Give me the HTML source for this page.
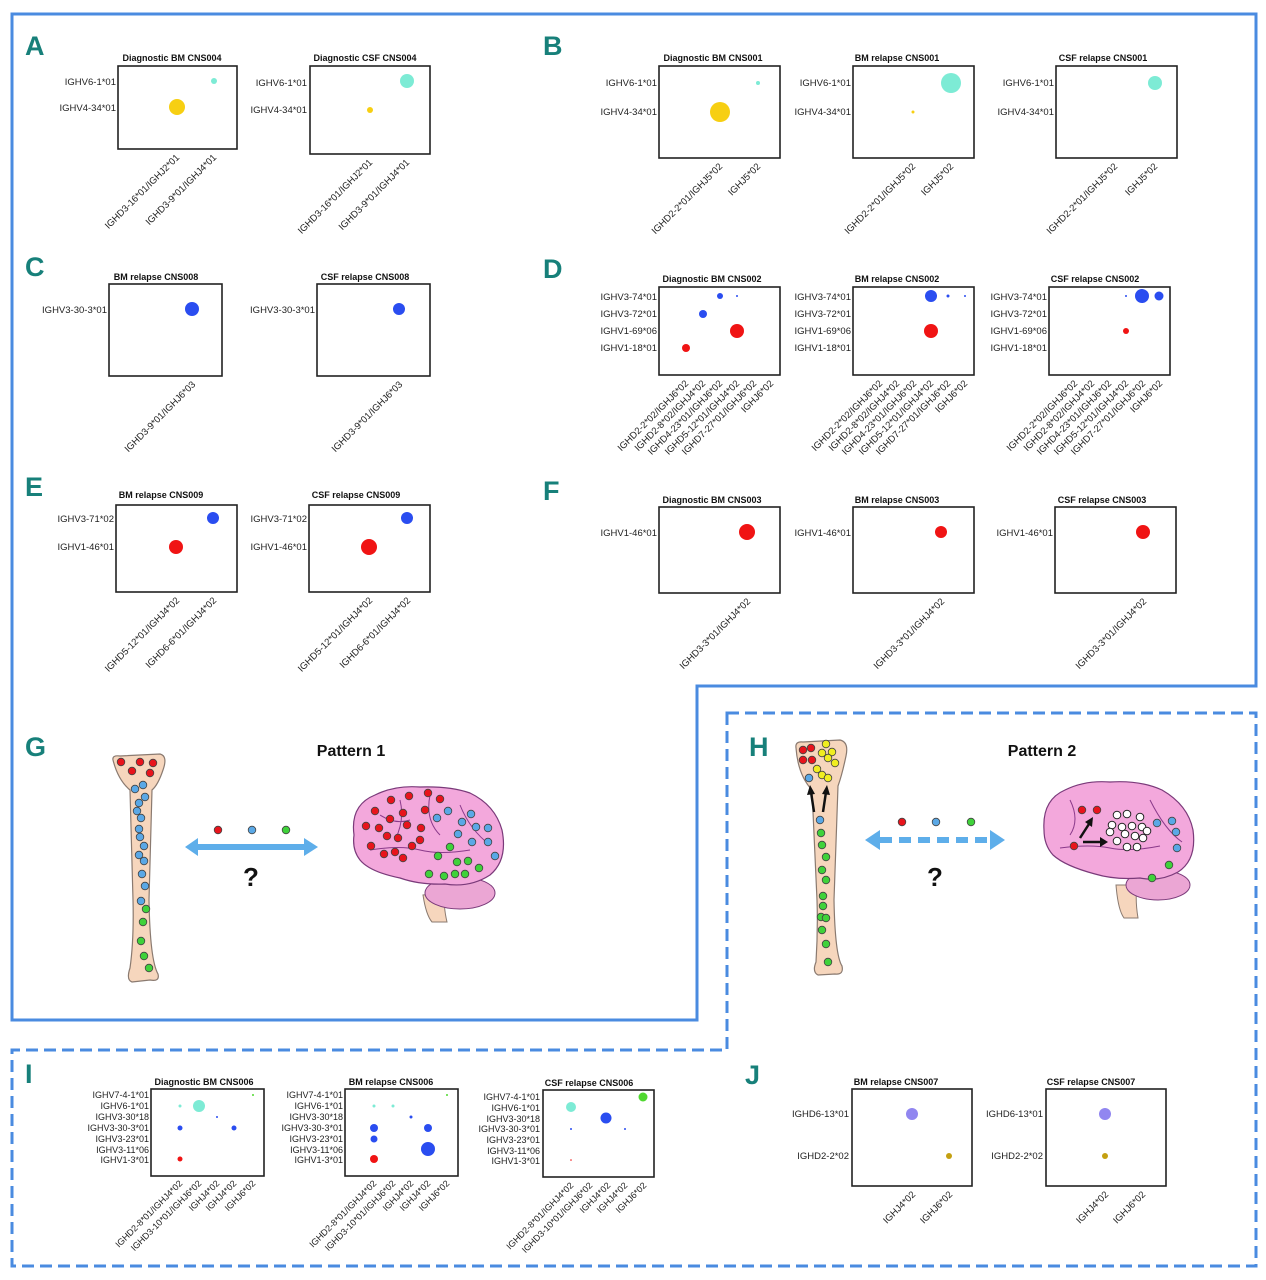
<!DOCTYPE html>
<html><head><meta charset="utf-8"><style>
html,body{margin:0;padding:0;background:#fff;}
svg{display:block;font-family:"Liberation Sans",Arial,sans-serif;}
.t{font-size:9px;font-weight:bold;text-anchor:middle;fill:#111}
.y{font-size:9.5px;text-anchor:end;fill:#222}
.x{font-size:9.5px;text-anchor:end;fill:#222}
.b{fill:none;stroke:#222;stroke-width:1.6}
.L{font-family:"Liberation Sans Narrow","Liberation Sans",sans-serif;font-size:27px;font-weight:bold;fill:#17807a}
.P{font-size:16px;font-weight:bold;text-anchor:middle;fill:#111}
.Q{font-size:26px;font-weight:bold;text-anchor:middle;fill:#111}
.c{stroke:#444;stroke-width:.8}
</style></head><body>
<svg width="1266" height="1280" viewBox="0 0 1266 1280" xmlns="http://www.w3.org/2000/svg">
<!-- borders -->
<path d="M12,14 H1256 V686 H697 V1020 H12 Z" fill="none" stroke="#4a8be0" stroke-width="3"/>
<path d="M727,713 H1256 V1266 H12 V1050 H727 Z" fill="none" stroke="#4a8be0" stroke-width="3" stroke-dasharray="12,6"/>

<!-- letters -->
<text class="L" x="25" y="55">A</text>
<text class="L" x="543" y="55">B</text>
<text class="L" x="25" y="276">C</text>
<text class="L" x="543" y="278">D</text>
<text class="L" x="25" y="496">E</text>
<text class="L" x="543" y="500">F</text>
<text class="L" x="25" y="756">G</text>
<text class="L" x="749" y="756">H</text>
<text class="L" x="25" y="1083">I</text>
<text class="L" x="745" y="1084">J</text>

<!-- A1 -->
<text class="t" x="172" y="61">Diagnostic BM CNS004</text>
<rect class="b" x="118" y="66" width="119" height="83"/>
<text class="y" x="116" y="85">IGHV6-1*01</text>
<text class="y" x="116" y="111">IGHV4-34*01</text>
<circle cx="214" cy="81" r="3" fill="#7debd5"/><circle cx="177" cy="107" r="8" fill="#f7cf12"/>
<text class="x" transform="translate(180,158) rotate(-45)">IGHD3-16*01/IGHJ2*01</text>
<text class="x" transform="translate(217,158) rotate(-45)">IGHD3-9*01/IGHJ4*01</text>
<!-- A2 -->
<text class="t" x="365" y="61">Diagnostic CSF CNS004</text>
<rect class="b" x="310" y="66" width="120" height="88"/>
<text class="y" x="307" y="86">IGHV6-1*01</text>
<text class="y" x="307" y="113">IGHV4-34*01</text>
<circle cx="407" cy="81" r="7" fill="#7debd5"/><circle cx="370" cy="110" r="3" fill="#f7cf12"/>
<text class="x" transform="translate(373,163) rotate(-45)">IGHD3-16*01/IGHJ2*01</text>
<text class="x" transform="translate(410,163) rotate(-45)">IGHD3-9*01/IGHJ4*01</text>

<!-- B1 -->
<text class="t" x="713" y="61">Diagnostic BM CNS001</text>
<rect class="b" x="659" y="66" width="121" height="92"/>
<text class="y" x="657" y="86">IGHV6-1*01</text>
<text class="y" x="657" y="115">IGHV4-34*01</text>
<circle cx="758" cy="83" r="2" fill="#7debd5"/><circle cx="720" cy="112" r="10" fill="#f7cf12"/>
<text class="x" transform="translate(723,167) rotate(-45)">IGHD2-2*01/IGHJ5*02</text>
<text class="x" transform="translate(761,167) rotate(-45)">IGHJ5*02</text>
<!-- B2 -->
<text class="t" x="897" y="61">BM relapse CNS001</text>
<rect class="b" x="853" y="66" width="121" height="92"/>
<text class="y" x="851" y="86">IGHV6-1*01</text>
<text class="y" x="851" y="115">IGHV4-34*01</text>
<circle cx="951" cy="83" r="10" fill="#7debd5"/><circle cx="913" cy="112" r="1.5" fill="#f7cf12"/>
<text class="x" transform="translate(916,167) rotate(-45)">IGHD2-2*01/IGHJ5*02</text>
<text class="x" transform="translate(954,167) rotate(-45)">IGHJ5*02</text>
<!-- B3 -->
<text class="t" x="1103" y="61">CSF relapse CNS001</text>
<rect class="b" x="1056" y="66" width="121" height="92"/>
<text class="y" x="1054" y="86">IGHV6-1*01</text>
<text class="y" x="1054" y="115">IGHV4-34*01</text>
<circle cx="1155" cy="83" r="7" fill="#7debd5"/>
<text class="x" transform="translate(1118,167) rotate(-45)">IGHD2-2*01/IGHJ5*02</text>
<text class="x" transform="translate(1158,167) rotate(-45)">IGHJ5*02</text>

<!-- C1 -->
<text class="t" x="156" y="280">BM relapse CNS008</text>
<rect class="b" x="109" y="284" width="113" height="92"/>
<text class="y" x="107" y="313">IGHV3-30-3*01</text>
<circle cx="192" cy="309" r="7" fill="#2a4df0"/>
<text class="x" transform="translate(196,385) rotate(-45)">IGHD3-9*01/IGHJ6*03</text>
<!-- C2 -->
<text class="t" x="365" y="280">CSF relapse CNS008</text>
<rect class="b" x="317" y="284" width="113" height="92"/>
<text class="y" x="315" y="313">IGHV3-30-3*01</text>
<circle cx="399" cy="309" r="6" fill="#2a4df0"/>
<text class="x" transform="translate(403,385) rotate(-45)">IGHD3-9*01/IGHJ6*03</text>

<!-- D1 -->
<text class="t" x="712" y="282">Diagnostic BM CNS002</text>
<rect class="b" x="659" y="287" width="121" height="88"/>
<text class="y" x="657" y="300">IGHV3-74*01</text>
<text class="y" x="657" y="317">IGHV3-72*01</text>
<text class="y" x="657" y="334">IGHV1-69*06</text>
<text class="y" x="657" y="351">IGHV1-18*01</text>
<circle cx="720" cy="296" r="3" fill="#2a4df0"/><circle cx="737" cy="296" r="1" fill="#2a4df0"/>
<circle cx="703" cy="314" r="4" fill="#2a4df0"/><circle cx="737" cy="331" r="7" fill="#f01414"/><circle cx="686" cy="348" r="4" fill="#f01414"/>
<text class="x" transform="translate(689,384) rotate(-45)">IGHD2-2*02/IGHJ6*02</text>
<text class="x" transform="translate(706,384) rotate(-45)">IGHD2-8*02/IGHJ4*02</text>
<text class="x" transform="translate(723,384) rotate(-45)">IGHD4-23*01/IGHJ6*02</text>
<text class="x" transform="translate(740,384) rotate(-45)">IGHD5-12*01/IGHJ4*02</text>
<text class="x" transform="translate(757,384) rotate(-45)">IGHD7-27*01/IGHJ6*02</text>
<text class="x" transform="translate(774,384) rotate(-45)">IGHJ6*02</text>
<!-- D2 -->
<text class="t" x="897" y="282">BM relapse CNS002</text>
<rect class="b" x="853" y="287" width="121" height="88"/>
<text class="y" x="851" y="300">IGHV3-74*01</text>
<text class="y" x="851" y="317">IGHV3-72*01</text>
<text class="y" x="851" y="334">IGHV1-69*06</text>
<text class="y" x="851" y="351">IGHV1-18*01</text>
<circle cx="931" cy="296" r="6" fill="#2a4df0"/><circle cx="948" cy="296" r="1.5" fill="#2a4df0"/><circle cx="965" cy="296" r="1" fill="#2a4df0"/>
<circle cx="931" cy="331" r="7" fill="#f01414"/>
<text class="x" transform="translate(883,384) rotate(-45)">IGHD2-2*02/IGHJ6*02</text>
<text class="x" transform="translate(900,384) rotate(-45)">IGHD2-8*02/IGHJ4*02</text>
<text class="x" transform="translate(917,384) rotate(-45)">IGHD4-23*01/IGHJ6*02</text>
<text class="x" transform="translate(934,384) rotate(-45)">IGHD5-12*01/IGHJ4*02</text>
<text class="x" transform="translate(951,384) rotate(-45)">IGHD7-27*01/IGHJ6*02</text>
<text class="x" transform="translate(968,384) rotate(-45)">IGHJ6*02</text>
<!-- D3 -->
<text class="t" x="1095" y="282">CSF relapse CNS002</text>
<rect class="b" x="1049" y="287" width="121" height="88"/>
<text class="y" x="1047" y="300">IGHV3-74*01</text>
<text class="y" x="1047" y="317">IGHV3-72*01</text>
<text class="y" x="1047" y="334">IGHV1-69*06</text>
<text class="y" x="1047" y="351">IGHV1-18*01</text>
<circle cx="1126" cy="296" r="1" fill="#2a4df0"/><circle cx="1142" cy="296" r="7" fill="#2a4df0"/><circle cx="1159" cy="296" r="4.5" fill="#2a4df0"/>
<circle cx="1126" cy="331" r="3" fill="#f01414"/>
<text class="x" transform="translate(1078,384) rotate(-45)">IGHD2-2*02/IGHJ6*02</text>
<text class="x" transform="translate(1095,384) rotate(-45)">IGHD2-8*02/IGHJ4*02</text>
<text class="x" transform="translate(1112,384) rotate(-45)">IGHD4-23*01/IGHJ6*02</text>
<text class="x" transform="translate(1129,384) rotate(-45)">IGHD5-12*01/IGHJ4*02</text>
<text class="x" transform="translate(1146,384) rotate(-45)">IGHD7-27*01/IGHJ6*02</text>
<text class="x" transform="translate(1163,384) rotate(-45)">IGHJ6*02</text>

<!-- E1 -->
<text class="t" x="161" y="498">BM relapse CNS009</text>
<rect class="b" x="116" y="505" width="121" height="87"/>
<text class="y" x="114" y="522">IGHV3-71*02</text>
<text class="y" x="114" y="550">IGHV1-46*01</text>
<circle cx="213" cy="518" r="6" fill="#2a4df0"/><circle cx="176" cy="547" r="7" fill="#f01414"/>
<text class="x" transform="translate(180,601) rotate(-45)">IGHD5-12*01/IGHJ4*02</text>
<text class="x" transform="translate(217,601) rotate(-45)">IGHD6-6*01/IGHJ4*02</text>
<!-- E2 -->
<text class="t" x="356" y="498">CSF relapse CNS009</text>
<rect class="b" x="309" y="505" width="121" height="87"/>
<text class="y" x="307" y="522">IGHV3-71*02</text>
<text class="y" x="307" y="550">IGHV1-46*01</text>
<circle cx="407" cy="518" r="6" fill="#2a4df0"/><circle cx="369" cy="547" r="8" fill="#f01414"/>
<text class="x" transform="translate(373,601) rotate(-45)">IGHD5-12*01/IGHJ4*02</text>
<text class="x" transform="translate(411,601) rotate(-45)">IGHD6-6*01/IGHJ4*02</text>

<!-- F -->
<text class="t" x="712" y="503">Diagnostic BM CNS003</text>
<rect class="b" x="659" y="507" width="121" height="86"/>
<text class="y" x="657" y="536">IGHV1-46*01</text>
<circle cx="747" cy="532" r="8" fill="#f01414"/>
<text class="x" transform="translate(751,602) rotate(-45)">IGHD3-3*01/IGHJ4*02</text>
<text class="t" x="897" y="503">BM relapse CNS003</text>
<rect class="b" x="853" y="507" width="121" height="86"/>
<text class="y" x="851" y="536">IGHV1-46*01</text>
<circle cx="941" cy="532" r="6" fill="#f01414"/>
<text class="x" transform="translate(945,602) rotate(-45)">IGHD3-3*01/IGHJ4*02</text>
<text class="t" x="1102" y="503">CSF relapse CNS003</text>
<rect class="b" x="1055" y="507" width="121" height="86"/>
<text class="y" x="1053" y="536">IGHV1-46*01</text>
<circle cx="1143" cy="532" r="7" fill="#f01414"/>
<text class="x" transform="translate(1147,602) rotate(-45)">IGHD3-3*01/IGHJ4*02</text>

<!-- I1 -->
<text class="t" x="204" y="1085">Diagnostic BM CNS006</text>
<rect class="b" x="151" y="1089" width="113" height="87"/>
<g class="y" style="font-size:9px">
<text x="149" y="1098">IGHV7-4-1*01</text><text x="149" y="1109">IGHV6-1*01</text><text x="149" y="1120">IGHV3-30*18</text>
<text x="149" y="1131">IGHV3-30-3*01</text><text x="149" y="1142">IGHV3-23*01</text><text x="149" y="1153">IGHV3-11*06</text><text x="149" y="1163">IGHV1-3*01</text>
</g>
<circle cx="253" cy="1095" r="1" fill="#50d830"/><circle cx="180" cy="1106" r="1.5" fill="#7debd5"/><circle cx="199" cy="1106" r="6" fill="#7debd5"/>
<circle cx="217" cy="1117" r="1" fill="#2a4df0"/><circle cx="180" cy="1128" r="2.5" fill="#2a4df0"/><circle cx="234" cy="1128" r="2.5" fill="#2a4df0"/><circle cx="180" cy="1159" r="2.5" fill="#f01414"/>
<g class="x" style="font-size:9px">
<text transform="translate(183,1184) rotate(-45)">IGHD2-8*01/IGHJ4*02</text>
<text transform="translate(202,1184) rotate(-45)">IGHD3-10*01/IGHJ6*02</text>
<text transform="translate(220,1184) rotate(-45)">IGHJ4*02</text>
<text transform="translate(237,1184) rotate(-45)">IGHJ4*02</text>
<text transform="translate(256,1184) rotate(-45)">IGHJ6*02</text>
</g>
<!-- I2 -->
<text class="t" x="391" y="1085">BM relapse CNS006</text>
<rect class="b" x="345" y="1089" width="113" height="87"/>
<g class="y" style="font-size:9px">
<text x="343" y="1098">IGHV7-4-1*01</text><text x="343" y="1109">IGHV6-1*01</text><text x="343" y="1120">IGHV3-30*18</text>
<text x="343" y="1131">IGHV3-30-3*01</text><text x="343" y="1142">IGHV3-23*01</text><text x="343" y="1153">IGHV3-11*06</text><text x="343" y="1163">IGHV1-3*01</text>
</g>
<circle cx="447" cy="1095" r="1" fill="#50d830"/><circle cx="374" cy="1106" r="1.5" fill="#7debd5"/><circle cx="393" cy="1106" r="1.5" fill="#7debd5"/>
<circle cx="411" cy="1117" r="1.5" fill="#2a4df0"/><circle cx="374" cy="1128" r="4" fill="#2a4df0"/><circle cx="428" cy="1128" r="4" fill="#2a4df0"/>
<circle cx="374" cy="1139" r="3.5" fill="#2a4df0"/><circle cx="428" cy="1149" r="7" fill="#2a4df0"/><circle cx="374" cy="1159" r="4" fill="#f01414"/>
<g class="x" style="font-size:9px">
<text transform="translate(377,1184) rotate(-45)">IGHD2-8*01/IGHJ4*02</text>
<text transform="translate(396,1184) rotate(-45)">IGHD3-10*01/IGHJ6*02</text>
<text transform="translate(414,1184) rotate(-45)">IGHJ4*02</text>
<text transform="translate(431,1184) rotate(-45)">IGHJ4*02</text>
<text transform="translate(450,1184) rotate(-45)">IGHJ6*02</text>
</g>
<!-- I3 -->
<text class="t" x="589" y="1086">CSF relapse CNS006</text>
<rect class="b" x="543" y="1090" width="111" height="87"/>
<g class="y" style="font-size:9px">
<text x="540" y="1100">IGHV7-4-1*01</text><text x="540" y="1111">IGHV6-1*01</text><text x="540" y="1122">IGHV3-30*18</text>
<text x="540" y="1132">IGHV3-30-3*01</text><text x="540" y="1143">IGHV3-23*01</text><text x="540" y="1154">IGHV3-11*06</text><text x="540" y="1164">IGHV1-3*01</text>
</g>
<circle cx="643" cy="1097" r="4.5" fill="#50d830"/><circle cx="571" cy="1107" r="5" fill="#7debd5"/>
<circle cx="606" cy="1118" r="5.5" fill="#2a4df0"/><circle cx="571" cy="1129" r="1" fill="#2a4df0"/><circle cx="625" cy="1129" r="1" fill="#2a4df0"/><circle cx="571" cy="1160" r="0.8" fill="#f01414"/>
<g class="x" style="font-size:9px">
<text transform="translate(574,1186) rotate(-45)">IGHD2-8*01/IGHJ4*02</text>
<text transform="translate(593,1186) rotate(-45)">IGHD3-10*01/IGHJ6*02</text>
<text transform="translate(611,1186) rotate(-45)">IGHJ4*02</text>
<text transform="translate(628,1186) rotate(-45)">IGHJ4*02</text>
<text transform="translate(647,1186) rotate(-45)">IGHJ6*02</text>
</g>

<!-- J -->
<text class="t" x="896" y="1085">BM relapse CNS007</text>
<rect class="b" x="852" y="1089" width="120" height="97"/>
<text class="y" x="849" y="1117">IGHD6-13*01</text>
<text class="y" x="849" y="1159">IGHD2-2*02</text>
<circle cx="912" cy="1114" r="6" fill="#9186f0"/><circle cx="949" cy="1156" r="3" fill="#c4a010"/>
<text class="x" transform="translate(916,1195) rotate(-45)">IGHJ4*02</text>
<text class="x" transform="translate(953,1195) rotate(-45)">IGHJ6*02</text>
<text class="t" x="1091" y="1085">CSF relapse CNS007</text>
<rect class="b" x="1046" y="1089" width="120" height="97"/>
<text class="y" x="1043" y="1117">IGHD6-13*01</text>
<text class="y" x="1043" y="1159">IGHD2-2*02</text>
<circle cx="1105" cy="1114" r="6" fill="#9186f0"/><circle cx="1105" cy="1156" r="3" fill="#c4a010"/>
<text class="x" transform="translate(1109,1195) rotate(-45)">IGHJ4*02</text>
<text class="x" transform="translate(1146,1195) rotate(-45)">IGHJ6*02</text>

<!-- ===== G ===== -->
<text class="P" x="351" y="756">Pattern 1</text>
<path d="M113,760 Q112,755 120,756 L160,754 Q168,756 163,770 Q158,785 152,790 L149,900 Q150,960 158,974 Q160,982 150,980 L132,982 Q126,980 130,968 Q134,940 133,900 L130,790 Q118,780 113,760 Z" fill="#f6d6bd" stroke="#8a7a70" stroke-width="1.2"/>
<g class="c">
<circle cx="121" cy="762" r="3.8" fill="#e8141c"/><circle cx="140" cy="762" r="3.8" fill="#e8141c"/><circle cx="153" cy="763" r="3.8" fill="#e8141c"/><circle cx="132" cy="771" r="3.8" fill="#e8141c"/><circle cx="150" cy="773" r="3.8" fill="#e8141c"/>
<circle cx="135" cy="789" r="3.8" fill="#5aa8e6"/><circle cx="143" cy="785" r="3.8" fill="#5aa8e6"/><circle cx="139" cy="803" r="3.8" fill="#5aa8e6"/><circle cx="145" cy="797" r="3.8" fill="#5aa8e6"/><circle cx="137" cy="811" r="3.8" fill="#5aa8e6"/><circle cx="141" cy="818" r="3.8" fill="#5aa8e6"/><circle cx="139" cy="829" r="3.8" fill="#5aa8e6"/><circle cx="140" cy="837" r="3.8" fill="#5aa8e6"/><circle cx="144" cy="846" r="3.8" fill="#5aa8e6"/><circle cx="139" cy="855" r="3.8" fill="#5aa8e6"/><circle cx="144" cy="861" r="3.8" fill="#5aa8e6"/><circle cx="142" cy="874" r="3.8" fill="#5aa8e6"/><circle cx="145" cy="886" r="3.8" fill="#5aa8e6"/><circle cx="141" cy="901" r="3.8" fill="#5aa8e6"/>
<circle cx="146" cy="909" r="3.8" fill="#3fd23a"/><circle cx="143" cy="922" r="3.8" fill="#3fd23a"/><circle cx="141" cy="941" r="3.8" fill="#3fd23a"/><circle cx="144" cy="956" r="3.8" fill="#3fd23a"/><circle cx="149" cy="968" r="3.8" fill="#3fd23a"/>
</g>
<path d="M185,847 L198,838 L198,844 L304,844 L304,838 L318,847 L304,856 L304,850 L198,850 L198,856 Z" fill="#5eaeea"/>
<g class="c"><circle cx="218" cy="830" r="3.8" fill="#e8141c"/><circle cx="252" cy="830" r="3.8" fill="#5aa8e6"/><circle cx="286" cy="830" r="3.8" fill="#3fd23a"/></g>
<text class="Q" x="251" y="886">?</text>
<!-- brain G -->
<path d="M423,895 Q426,915 432,922 L447,922 Q443,905 445,893 Z" fill="#f6d6bd" stroke="#8a7a70"/>
<ellipse cx="460" cy="893" rx="35" ry="16" fill="#eba6d4" stroke="#7a3a7a"/>
<path d="M354,835 Q350,805 375,795 Q395,785 420,787 Q450,786 470,793 Q495,805 502,830 Q508,860 490,875 Q470,888 445,884 Q420,885 400,878 Q370,872 360,860 Q352,850 354,835 Z" fill="#f3a8dc" stroke="#7a3a7a" stroke-width="1.2"/>
<path d="M370,850 Q400,845 420,850 Q440,855 470,850 M400,800 Q405,820 395,840 M430,795 Q425,820 440,835 M460,805 Q470,830 490,845 M380,815 Q395,825 410,820" fill="none" stroke="#8a3a8a" stroke-width="1"/>
<g class="c">
<circle cx="391" cy="800" r="3.8" fill="#e8141c"/><circle cx="409" cy="796" r="3.8" fill="#e8141c"/><circle cx="428" cy="793" r="3.8" fill="#e8141c"/><circle cx="440" cy="799" r="3.8" fill="#e8141c"/><circle cx="375" cy="811" r="3.8" fill="#e8141c"/><circle cx="403" cy="813" r="3.8" fill="#e8141c"/><circle cx="425" cy="810" r="3.8" fill="#e8141c"/><circle cx="390" cy="819" r="3.8" fill="#e8141c"/><circle cx="366" cy="826" r="3.8" fill="#e8141c"/><circle cx="379" cy="828" r="3.8" fill="#e8141c"/><circle cx="407" cy="825" r="3.8" fill="#e8141c"/><circle cx="421" cy="828" r="3.8" fill="#e8141c"/><circle cx="387" cy="836" r="3.8" fill="#e8141c"/><circle cx="398" cy="838" r="3.8" fill="#e8141c"/><circle cx="420" cy="840" r="3.8" fill="#e8141c"/><circle cx="371" cy="846" r="3.8" fill="#e8141c"/><circle cx="412" cy="846" r="3.8" fill="#e8141c"/><circle cx="384" cy="854" r="3.8" fill="#e8141c"/><circle cx="395" cy="852" r="3.8" fill="#e8141c"/><circle cx="403" cy="858" r="3.8" fill="#e8141c"/>
<circle cx="448" cy="811" r="3.8" fill="#5aa8e6"/><circle cx="471" cy="814" r="3.8" fill="#5aa8e6"/><circle cx="437" cy="818" r="3.8" fill="#5aa8e6"/><circle cx="462" cy="822" r="3.8" fill="#5aa8e6"/><circle cx="476" cy="827" r="3.8" fill="#5aa8e6"/><circle cx="488" cy="828" r="3.8" fill="#5aa8e6"/><circle cx="458" cy="834" r="3.8" fill="#5aa8e6"/><circle cx="472" cy="842" r="3.8" fill="#5aa8e6"/><circle cx="488" cy="842" r="3.8" fill="#5aa8e6"/><circle cx="495" cy="856" r="3.8" fill="#5aa8e6"/>
<circle cx="450" cy="847" r="3.8" fill="#3fd23a"/><circle cx="438" cy="856" r="3.8" fill="#3fd23a"/><circle cx="457" cy="862" r="3.8" fill="#3fd23a"/><circle cx="468" cy="861" r="3.8" fill="#3fd23a"/><circle cx="479" cy="868" r="3.8" fill="#3fd23a"/><circle cx="429" cy="874" r="3.8" fill="#3fd23a"/><circle cx="444" cy="876" r="3.8" fill="#3fd23a"/><circle cx="455" cy="874" r="3.8" fill="#3fd23a"/><circle cx="465" cy="874" r="3.8" fill="#3fd23a"/>
</g>

<!-- ===== H ===== -->
<text class="P" x="1042" y="756">Pattern 2</text>
<path d="M796,748 Q795,741 803,742 L840,740 Q849,742 846,756 Q842,775 838,786 L834,900 Q835,955 842,966 Q844,975 835,974 L818,975 Q812,972 816,962 Q818,930 817,900 L812,790 Q798,775 796,748 Z" fill="#f6d6bd" stroke="#8a7a70" stroke-width="1.2"/>
<g class="c">
<circle cx="803" cy="750" r="3.8" fill="#e8141c"/><circle cx="811" cy="748" r="3.8" fill="#e8141c"/><circle cx="803" cy="760" r="3.8" fill="#e8141c"/><circle cx="812" cy="760" r="3.8" fill="#e8141c"/>
<circle cx="826" cy="744" r="3.8" fill="#f0ee20"/><circle cx="822" cy="753" r="3.8" fill="#f0ee20"/><circle cx="832" cy="752" r="3.8" fill="#f0ee20"/><circle cx="828" cy="758" r="3.8" fill="#f0ee20"/><circle cx="835" cy="763" r="3.8" fill="#f0ee20"/><circle cx="817" cy="769" r="3.8" fill="#f0ee20"/><circle cx="822" cy="775" r="3.8" fill="#f0ee20"/><circle cx="828" cy="778" r="3.8" fill="#f0ee20"/>
<circle cx="809" cy="778" r="3.8" fill="#5aa8e6"/><circle cx="820" cy="820" r="3.8" fill="#5aa8e6"/>
<circle cx="821" cy="833" r="3.8" fill="#3fd23a"/><circle cx="822" cy="845" r="3.8" fill="#3fd23a"/><circle cx="826" cy="857" r="3.8" fill="#3fd23a"/><circle cx="822" cy="870" r="3.8" fill="#3fd23a"/><circle cx="826" cy="880" r="3.8" fill="#3fd23a"/><circle cx="823" cy="896" r="3.8" fill="#3fd23a"/><circle cx="823" cy="906" r="3.8" fill="#3fd23a"/><circle cx="821" cy="917" r="3.8" fill="#3fd23a"/><circle cx="826" cy="918" r="3.8" fill="#3fd23a"/><circle cx="822" cy="930" r="3.8" fill="#3fd23a"/><circle cx="826" cy="944" r="3.8" fill="#3fd23a"/><circle cx="828" cy="962" r="3.8" fill="#3fd23a"/>
</g>
<path d="M814,812 L811,792 M823,812 L826,792" stroke="#111" stroke-width="2.5"/>
<path d="M807,795 L810,785 L815,794 Z M822,794 L827,785 L830,795 Z" fill="#111"/>
<path d="M865,840 L880,830 L880,850 Z M1005,840 L990,830 L990,850 Z" fill="#5eaeea"/>
<path d="M880,840 H990" stroke="#5eaeea" stroke-width="6" stroke-dasharray="12,7"/>
<g class="c"><circle cx="902" cy="822" r="3.8" fill="#e8141c"/><circle cx="936" cy="822" r="3.8" fill="#5aa8e6"/><circle cx="971" cy="822" r="3.8" fill="#3fd23a"/></g>
<text class="Q" x="935" y="886">?</text>
<!-- brain H -->
<path d="M1116,885 Q1118,910 1124,918 L1138,918 Q1135,900 1137,885 Z" fill="#f6d6bd" stroke="#8a7a70"/>
<ellipse cx="1158" cy="885" rx="32" ry="15" fill="#eba6d4" stroke="#7a3a7a"/>
<path d="M1044,830 Q1042,800 1065,790 Q1085,780 1110,782 Q1140,780 1162,790 Q1188,805 1193,830 Q1197,860 1178,872 Q1160,882 1140,878 Q1115,880 1095,874 Q1065,866 1053,855 Q1044,845 1044,830 Z" fill="#f3a8dc" stroke="#7a3a7a" stroke-width="1.2"/>
<path d="M1060,848 Q1090,844 1110,848 Q1130,852 1160,846 M1150,800 Q1165,830 1182,842 M1070,800 Q1080,820 1070,835" fill="none" stroke="#8a3a8a" stroke-width="1"/>
<g class="c">
<circle cx="1082" cy="810" r="3.8" fill="#e8141c"/><circle cx="1097" cy="810" r="3.8" fill="#e8141c"/><circle cx="1074" cy="846" r="3.8" fill="#e8141c"/>
<circle cx="1157" cy="823" r="3.8" fill="#5aa8e6"/><circle cx="1172" cy="821" r="3.8" fill="#5aa8e6"/><circle cx="1176" cy="832" r="3.8" fill="#5aa8e6"/><circle cx="1177" cy="848" r="3.8" fill="#5aa8e6"/>
<circle cx="1169" cy="865" r="3.8" fill="#3fd23a"/><circle cx="1152" cy="878" r="3.8" fill="#3fd23a"/>
</g>
<g fill="#fff" stroke="#222" stroke-width="1">
<circle cx="1117" cy="815" r="3.8"/><circle cx="1127" cy="814" r="3.8"/><circle cx="1140" cy="817" r="3.8"/><circle cx="1112" cy="825" r="3.8"/><circle cx="1122" cy="827" r="3.8"/><circle cx="1132" cy="826" r="3.8"/><circle cx="1142" cy="827" r="3.8"/><circle cx="1147" cy="831" r="3.8"/><circle cx="1110" cy="832" r="3.8"/><circle cx="1125" cy="834" r="3.8"/><circle cx="1135" cy="836" r="3.8"/><circle cx="1143" cy="838" r="3.8"/><circle cx="1117" cy="841" r="3.8"/><circle cx="1127" cy="847" r="3.8"/><circle cx="1137" cy="847" r="3.8"/>
</g>
<path d="M1080,838 L1089,824 M1083,842 L1101,842" stroke="#111" stroke-width="2.5"/>
<path d="M1085,822 L1093,817 L1092,827 Z M1100,837 L1108,842 L1100,847 Z" fill="#111"/>
</svg>
</body></html>
